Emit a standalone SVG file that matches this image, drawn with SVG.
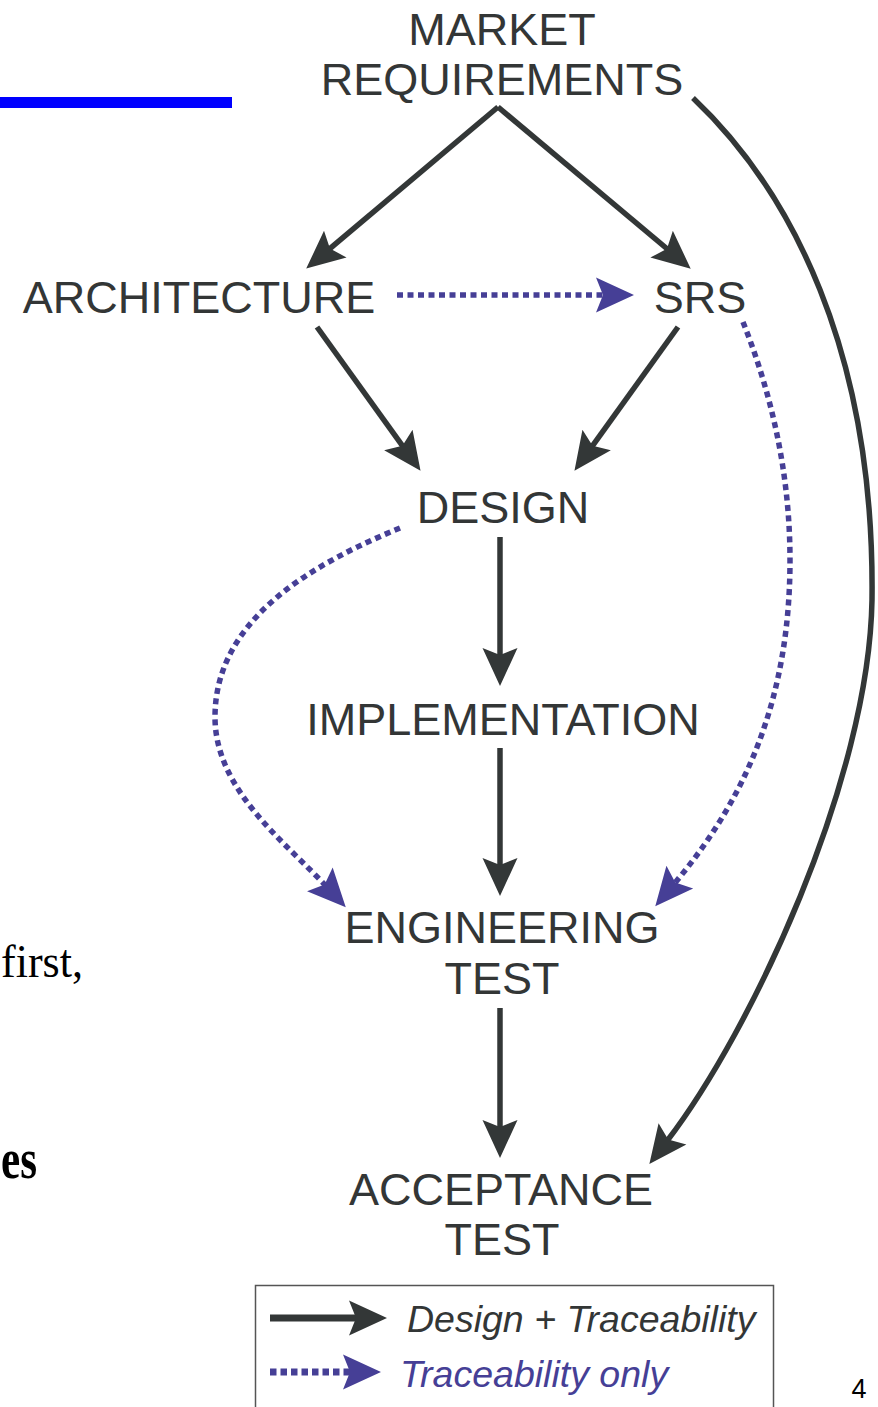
<svg xmlns="http://www.w3.org/2000/svg" width="878" height="1407" viewBox="0 0 878 1407">
<style>
.lbl{font-family:"Liberation Sans",Arial,sans-serif;font-size:45px;fill:#333636;text-anchor:middle}
.solid{fill:none;stroke:#333737;stroke-width:5.5}
.dot{fill:none;stroke:#463F96;stroke-width:5.5;stroke-dasharray:6 4.5}
.leg{font-family:"Liberation Sans",Arial,sans-serif;font-size:37.5px;font-style:italic}
.serif{font-family:"Liberation Serif","Times New Roman",serif;fill:#000}
</style>
<defs>
<marker id="ah" markerUnits="userSpaceOnUse" markerWidth="42" markerHeight="38" viewBox="0 -19 42 38" refX="9" refY="0" orient="auto" overflow="visible"><path d="M38,0 L0,-17.5 L7,0 L0,17.5 Z" fill="#333737"/></marker>
<marker id="ahb" markerUnits="userSpaceOnUse" markerWidth="42" markerHeight="38" viewBox="0 -19 42 38" refX="9" refY="0" orient="auto" overflow="visible"><path d="M38,0 L0,-17.5 L7,0 L0,17.5 Z" fill="#463F96"/></marker>
</defs>
<rect x="0" y="97" width="232" height="11" fill="#0000FF"/>
<text class="serif" x="1" y="977" font-size="47" textLength="82" lengthAdjust="spacingAndGlyphs">first,</text>
<text class="serif" x="1" y="1178" font-size="56" font-weight="bold" textLength="36" lengthAdjust="spacingAndGlyphs">es</text>
<g id="connectors">
<path class="solid" d="M498,107 L328.4,249.9" marker-end="url(#ah)"/>
<path class="solid" d="M498,107 L668.5,250" marker-end="url(#ah)"/>
<path class="solid" d="M317,327 L403.6,447.3" marker-end="url(#ah)"/>
<path class="solid" d="M678,327 L591.4,447.3" marker-end="url(#ah)"/>
<path class="solid" d="M500,537 L500,657" marker-end="url(#ah)"/>
<path class="solid" d="M500,748 L500,867" marker-end="url(#ah)"/>
<path class="solid" d="M500,1008 L500,1129" marker-end="url(#ah)"/>
<path class="solid" d="M693,98 C790,190 875,350 872,600 C869,780 752,1030 667,1141" marker-end="url(#ah)"/>
<path class="dot" d="M397,295 L605,295" marker-end="url(#ahb)"/>
<path class="dot" d="M400,528 C310,565 215,620 215,717 C215,790 285,842 326,886" marker-end="url(#ahb)"/>
<path class="dot" d="M743,322 C770,390 790,470 790,560 C790,700 745,800 674,884" marker-end="url(#ahb)"/>
</g>
<g id="market"><text class="lbl" x="502" y="45">MARKET</text><text class="lbl" x="502" y="95">REQUIREMENTS</text></g>
<g id="architecture"><text class="lbl" x="199" y="313">ARCHITECTURE</text></g>
<g id="srs"><text class="lbl" x="700" y="313">SRS</text></g>
<g id="design"><text class="lbl" x="503" y="523">DESIGN</text></g>
<g id="implementation"><text class="lbl" x="503" y="735">IMPLEMENTATION</text></g>
<g id="engtest"><text class="lbl" x="502" y="943">ENGINEERING</text><text class="lbl" x="502" y="994">TEST</text></g>
<g id="acctest"><text class="lbl" x="501" y="1205">ACCEPTANCE</text><text class="lbl" x="502" y="1255">TEST</text></g>
<g id="legend">
<rect x="255.5" y="1285.5" width="518" height="140" fill="none" stroke="#555" stroke-width="1.5"/>
<path d="M270,1318 L358,1318" fill="none" stroke="#333737" stroke-width="7" marker-end="url(#ah)"/>
<text class="leg" x="407" y="1332" fill="#333636">Design + Traceability</text>
<path d="M270,1372 L352,1372" fill="none" stroke="#463F96" stroke-width="7" stroke-dasharray="6.5 4" marker-end="url(#ahb)"/>
<text class="leg" x="400" y="1387" fill="#463F96">Traceability only</text>
</g>
<text x="859" y="1398" font-family="'Liberation Sans',Arial,sans-serif" font-size="27" text-anchor="middle" fill="#000">4</text>
</svg>
